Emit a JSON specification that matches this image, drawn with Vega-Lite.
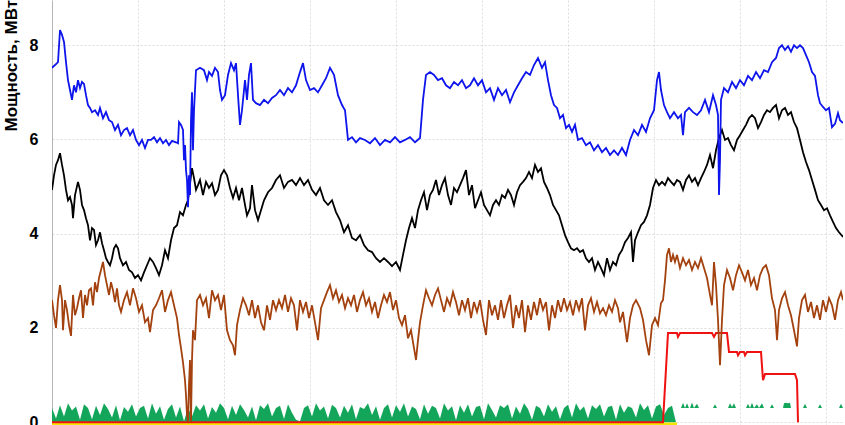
{
"$schema":"https://vega.github.io/schema/vega-lite/v6.json",
"width":791,"height":425,
"autosize":{"type":"none"},
"padding":{"left":52,"top":0,"right":2,"bottom":0},
"background":"white",
"config":{"view":{"stroke":null},"font":"Liberation Sans"},
"datasets":{
"green":[{"n":0,"lo":0,"hi":0.30},{"n":2,"lo":0,"hi":0.08},{"n":4,"lo":0,"hi":0.36},{"n":6,"lo":0,"hi":0.12},{"n":8,"lo":0,"hi":0.40},{"n":10,"lo":0,"hi":0.25},{"n":12,"lo":0,"hi":0.33},{"n":14,"lo":0,"hi":0.05},{"n":16,"lo":0,"hi":0.38},{"n":18,"lo":0,"hi":0.30},{"n":20,"lo":0,"hi":0.06},{"n":22,"lo":0,"hi":0.35},{"n":24,"lo":0,"hi":0.15},{"n":26,"lo":0,"hi":0.40},{"n":28,"lo":0,"hi":0.28},{"n":30,"lo":0,"hi":0.10},{"n":32,"lo":0,"hi":0.36},{"n":34,"lo":0,"hi":0.04},{"n":36,"lo":0,"hi":0.32},{"n":38,"lo":0,"hi":0.22},{"n":40,"lo":0,"hi":0.38},{"n":42,"lo":0,"hi":0.12},{"n":44,"lo":0,"hi":0.30},{"n":46,"lo":0,"hi":0.35},{"n":48,"lo":0,"hi":0.08},{"n":50,"lo":0,"hi":0.40},{"n":52,"lo":0,"hi":0.18},{"n":54,"lo":0,"hi":0.34},{"n":56,"lo":0,"hi":0.05},{"n":58,"lo":0,"hi":0.28},{"n":60,"lo":0,"hi":0.38},{"n":62,"lo":0,"hi":0.10},{"n":64,"lo":0,"hi":0.33},{"n":66,"lo":0,"hi":0.02},{"n":68,"lo":0,"hi":0.30},{"n":70,"lo":0,"hi":0.12},{"n":72,"lo":0,"hi":0.36},{"n":74,"lo":0,"hi":0.25},{"n":76,"lo":0,"hi":0.38},{"n":78,"lo":0,"hi":0.08},{"n":80,"lo":0,"hi":0.32},{"n":82,"lo":0,"hi":0.20},{"n":84,"lo":0,"hi":0.40},{"n":86,"lo":0,"hi":0.30},{"n":88,"lo":0,"hi":0.06},{"n":90,"lo":0,"hi":0.35},{"n":92,"lo":0,"hi":0.15},{"n":94,"lo":0,"hi":0.38},{"n":96,"lo":0,"hi":0.26},{"n":98,"lo":0,"hi":0.10},{"n":100,"lo":0,"hi":0.33},{"n":102,"lo":0,"hi":0.04},{"n":104,"lo":0,"hi":0.36},{"n":106,"lo":0,"hi":0.28},{"n":108,"lo":0,"hi":0.40},{"n":110,"lo":0,"hi":0.12},{"n":112,"lo":0,"hi":0.30},{"n":114,"lo":0,"hi":0.35},{"n":116,"lo":0,"hi":0.07},{"n":118,"lo":0,"hi":0.38},{"n":120,"lo":0,"hi":0.20},{"n":122,"lo":0,"hi":0.05},{"n":124,"lo":0,"hi":0.02},{"n":126,"lo":0,"hi":0.30},{"n":128,"lo":0,"hi":0.36},{"n":130,"lo":0,"hi":0.12},{"n":132,"lo":0,"hi":0.40},{"n":134,"lo":0,"hi":0.25},{"n":136,"lo":0,"hi":0.33},{"n":138,"lo":0,"hi":0.08},{"n":140,"lo":0,"hi":0.37},{"n":142,"lo":0,"hi":0.30},{"n":144,"lo":0,"hi":0.10},{"n":146,"lo":0,"hi":0.35},{"n":148,"lo":0,"hi":0.20},{"n":150,"lo":0,"hi":0.38},{"n":152,"lo":0,"hi":0.06},{"n":154,"lo":0,"hi":0.32},{"n":156,"lo":0,"hi":0.28},{"n":158,"lo":0,"hi":0.40},{"n":160,"lo":0,"hi":0.15},{"n":162,"lo":0,"hi":0.34},{"n":164,"lo":0,"hi":0.05},{"n":166,"lo":0,"hi":0.30},{"n":168,"lo":0,"hi":0.38},{"n":170,"lo":0,"hi":0.10},{"n":172,"lo":0,"hi":0.36},{"n":174,"lo":0,"hi":0.22},{"n":176,"lo":0,"hi":0.40},{"n":178,"lo":0,"hi":0.12},{"n":180,"lo":0,"hi":0.33},{"n":182,"lo":0,"hi":0.28},{"n":184,"lo":0,"hi":0.06},{"n":186,"lo":0,"hi":0.38},{"n":188,"lo":0,"hi":0.18},{"n":190,"lo":0,"hi":0.35},{"n":192,"lo":0,"hi":0.30},{"n":194,"lo":0,"hi":0.08},{"n":196,"lo":0,"hi":0.40},{"n":198,"lo":0,"hi":0.25},{"n":200,"lo":0,"hi":0.34},{"n":202,"lo":0,"hi":0.04},{"n":204,"lo":0,"hi":0.36},{"n":206,"lo":0,"hi":0.20},{"n":208,"lo":0,"hi":0.38},{"n":210,"lo":0,"hi":0.12},{"n":212,"lo":0,"hi":0.32},{"n":214,"lo":0,"hi":0.35},{"n":216,"lo":0,"hi":0.06},{"n":218,"lo":0,"hi":0.40},{"n":220,"lo":0,"hi":0.26},{"n":222,"lo":0,"hi":0.10},{"n":224,"lo":0,"hi":0.36},{"n":226,"lo":0,"hi":0.30},{"n":228,"lo":0,"hi":0.38},{"n":230,"lo":0,"hi":0.08},{"n":232,"lo":0,"hi":0.33},{"n":234,"lo":0,"hi":0.18},{"n":236,"lo":0,"hi":0.40},{"n":238,"lo":0,"hi":0.28},{"n":240,"lo":0,"hi":0.05},{"n":242,"lo":0,"hi":0.35},{"n":244,"lo":0,"hi":0.30},{"n":246,"lo":0,"hi":0.12},{"n":248,"lo":0,"hi":0.38},{"n":250,"lo":0,"hi":0.22},{"n":252,"lo":0,"hi":0.34},{"n":254,"lo":0,"hi":0.06},{"n":256,"lo":0,"hi":0.30},{"n":258,"lo":0,"hi":0.37},{"n":260,"lo":0,"hi":0.10},{"n":262,"lo":0,"hi":0.40},{"n":264,"lo":0,"hi":0.25},{"n":266,"lo":0,"hi":0.33},{"n":268,"lo":0,"hi":0.08},{"n":270,"lo":0,"hi":0.36},{"n":272,"lo":0,"hi":0.28},{"n":274,"lo":0,"hi":0.38},{"n":276,"lo":0,"hi":0.12},{"n":278,"lo":0,"hi":0.32},{"n":280,"lo":0,"hi":0.35},{"n":282,"lo":0,"hi":0.05},{"n":284,"lo":0,"hi":0.38},{"n":286,"lo":0,"hi":0.20},{"n":288,"lo":0,"hi":0.34},{"n":290,"lo":0,"hi":0.30},{"n":292,"lo":0,"hi":0.10},{"n":294,"lo":0,"hi":0.40},{"n":296,"lo":0,"hi":0.26},{"n":298,"lo":0,"hi":0.36},{"n":300,"lo":0,"hi":0.08},{"n":302,"lo":0,"hi":0.33},{"n":304,"lo":0,"hi":0.38},{"n":306,"lo":0,"hi":0.15},{"n":308,"lo":0,"hi":0.30},{"n":310,"lo":0,"hi":0.35},{"n":312,"lo":0,"hi":0.0},{"n":312.5,"lo":0,"hi":0},{"n":313,"lo":0.3,"hi":0.3},{"n":314.5,"lo":0.3,"hi":0.3},{"n":315.5,"lo":0.3,"hi":0.41},{"n":316.5,"lo":0.3,"hi":0.3},{"n":317.5,"lo":0.3,"hi":0.4},{"n":318.5,"lo":0.3,"hi":0.3},{"n":319,"lo":0.3,"hi":0.3},{"n":320,"lo":0.3,"hi":0.42},{"n":321,"lo":0.3,"hi":0.3},{"n":322.5,"lo":0.3,"hi":0.39},{"n":323.5,"lo":0.3,"hi":0.3},{"n":330.5,"lo":0.3,"hi":0.3},{"n":331.5,"lo":0.3,"hi":0.38},{"n":332.5,"lo":0.3,"hi":0.3},{"n":338,"lo":0.3,"hi":0.3},{"n":339,"lo":0.3,"hi":0.4},{"n":340,"lo":0.3,"hi":0.32},{"n":341,"lo":0.3,"hi":0.4},{"n":342,"lo":0.3,"hi":0.3},{"n":347,"lo":0.3,"hi":0.3},{"n":348,"lo":0.3,"hi":0.39},{"n":349,"lo":0.3,"hi":0.3},{"n":350,"lo":0.3,"hi":0.41},{"n":351,"lo":0.3,"hi":0.3},{"n":352.5,"lo":0.3,"hi":0.38},{"n":353.5,"lo":0.3,"hi":0.3},{"n":355,"lo":0.3,"hi":0.4},{"n":356,"lo":0.3,"hi":0.3},{"n":359,"lo":0.3,"hi":0.3},{"n":360,"lo":0.3,"hi":0.38},{"n":361,"lo":0.3,"hi":0.3},{"n":365.5,"lo":0.3,"hi":0.3},{"n":366,"lo":0.3,"hi":0.4},{"n":367,"lo":0.3,"hi":0.41},{"n":368,"lo":0.3,"hi":0.4},{"n":369,"lo":0.3,"hi":0.41},{"n":369.5,"lo":0.3,"hi":0.3},{"n":375.5,"lo":0.3,"hi":0.3},{"n":376.5,"lo":0.3,"hi":0.39},{"n":377.5,"lo":0.3,"hi":0.3},{"n":383,"lo":0.3,"hi":0.3},{"n":384,"lo":0.3,"hi":0.38},{"n":385,"lo":0.3,"hi":0.3},{"n":393.5,"lo":0.3,"hi":0.3},{"n":394.5,"lo":0.3,"hi":0.39},{"n":395.5,"lo":0.3,"hi":0.3}],
"yellow":[{"n":0,"v":-0.04},{"n":312.5,"v":-0.04}],
"red":[{"n":0,"v":0},{"n":305.5,"v":0},{"n":308,"v":1.89},{"n":312.5,"v":1.89},{"n":313,"v":1.81},{"n":314,"v":1.89},{"n":330,"v":1.89},{"n":331,"v":1.81},{"n":332,"v":1.89},{"n":337.5,"v":1.89},{"n":338.5,"v":1.49},{"n":342.5,"v":1.49},{"n":343,"v":1.42},{"n":344,"v":1.49},{"n":346,"v":1.49},{"n":346.5,"v":1.42},{"n":347.5,"v":1.49},{"n":354.5,"v":1.49},{"n":355.5,"v":0.89},{"n":356.5,"v":1.02},{"n":371.5,"v":1.02},{"n":372.5,"v":0.89},{"n":373,"v":0}],
"brown":[{"n":0,"v":2.59},{"n":1,"v":2.27},{"n":2,"v":2.0},{"n":3,"v":2.59},{"n":4,"v":2.91},{"n":5,"v":2.59},{"n":5.5,"v":1.95},{"n":6.5,"v":2.59},{"n":7.5,"v":2.38},{"n":8.5,"v":2.06},{"n":9.5,"v":1.83},{"n":10.5,"v":2.7},{"n":11.5,"v":2.27},{"n":12.5,"v":2.42},{"n":13.5,"v":2.63},{"n":14.5,"v":2.8},{"n":15.5,"v":2.21},{"n":16.5,"v":2.7},{"n":17.5,"v":2.48},{"n":18.5,"v":2.8},{"n":19.5,"v":2.84},{"n":20.5,"v":2.48},{"n":21.5,"v":2.97},{"n":22.5,"v":2.76},{"n":23.5,"v":3.06},{"n":24.5,"v":3.23},{"n":25.5,"v":3.4},{"n":26.5,"v":3.12},{"n":27.5,"v":2.91},{"n":28.5,"v":2.7},{"n":29.5,"v":2.97},{"n":30.5,"v":2.8},{"n":31.5,"v":2.55},{"n":32.5,"v":2.84},{"n":33.5,"v":2.48},{"n":34.5,"v":2.34},{"n":36,"v":2.59},{"n":37.5,"v":2.76},{"n":39,"v":2.48},{"n":40.5,"v":2.84},{"n":42,"v":2.63},{"n":43.5,"v":2.34},{"n":45,"v":2.48},{"n":46.5,"v":2.12},{"n":48,"v":2.21},{"n":49,"v":1.91},{"n":50.5,"v":2.38},{"n":52,"v":2.48},{"n":53.5,"v":2.63},{"n":55,"v":2.8},{"n":56.5,"v":2.34},{"n":58,"v":2.59},{"n":59.5,"v":2.76},{"n":61,"v":2.48},{"n":62.5,"v":2.21},{"n":63.5,"v":1.85},{"n":64.5,"v":1.57},{"n":65.5,"v":1.27},{"n":66.5,"v":0.89},{"n":67,"v":0.57},{"n":67.5,"v":0.15},{"n":68,"v":0},{"n":68.5,"v":0.79},{"n":69,"v":1.32},{"n":69.5,"v":0},{"n":70,"v":1.32},{"n":70.5,"v":1.95},{"n":71.5,"v":1.74},{"n":72.5,"v":2.59},{"n":74,"v":2.7},{"n":75.5,"v":2.48},{"n":77,"v":2.63},{"n":78.5,"v":2.21},{"n":80,"v":2.8},{"n":81.5,"v":2.59},{"n":83,"v":2.7},{"n":84.5,"v":2.38},{"n":86,"v":2.7},{"n":87.5,"v":1.95},{"n":89,"v":1.74},{"n":90.5,"v":1.63},{"n":91.5,"v":1.42},{"n":92.5,"v":2.06},{"n":94,"v":2.38},{"n":95.5,"v":2.63},{"n":97,"v":2.48},{"n":98.5,"v":2.27},{"n":100,"v":2.59},{"n":101.5,"v":2.21},{"n":103,"v":2.48},{"n":104.5,"v":2.12},{"n":106,"v":1.95},{"n":107.5,"v":2.48},{"n":109,"v":2.17},{"n":110.5,"v":2.59},{"n":112,"v":2.38},{"n":113.5,"v":2.59},{"n":115,"v":2.42},{"n":116.5,"v":2.7},{"n":118,"v":2.34},{"n":119.5,"v":2.63},{"n":121,"v":2.48},{"n":122.5,"v":1.95},{"n":124,"v":2.59},{"n":125.5,"v":2.34},{"n":127,"v":2.55},{"n":128.5,"v":2.21},{"n":130,"v":2.48},{"n":131.5,"v":2.12},{"n":133,"v":1.74},{"n":134.5,"v":2.42},{"n":136,"v":2.59},{"n":137.5,"v":2.76},{"n":139,"v":2.91},{"n":140.5,"v":2.63},{"n":142,"v":2.8},{"n":143.5,"v":2.55},{"n":145,"v":2.7},{"n":146.5,"v":2.42},{"n":148,"v":2.63},{"n":149.5,"v":2.48},{"n":151,"v":2.7},{"n":152.5,"v":2.34},{"n":154,"v":2.59},{"n":155.5,"v":2.76},{"n":157,"v":2.48},{"n":158.5,"v":2.63},{"n":160,"v":2.34},{"n":161.5,"v":2.55},{"n":163,"v":2.21},{"n":164.5,"v":2.48},{"n":166,"v":2.7},{"n":167.5,"v":2.55},{"n":169,"v":2.76},{"n":170.5,"v":2.38},{"n":172,"v":2.59},{"n":173.5,"v":2.21},{"n":175,"v":2.06},{"n":176.5,"v":2.27},{"n":178,"v":1.78},{"n":179.5,"v":1.95},{"n":181,"v":1.57},{"n":182,"v":1.32},{"n":183,"v":1.74},{"n":184,"v":2.12},{"n":185.5,"v":2.48},{"n":187,"v":2.8},{"n":188.5,"v":2.63},{"n":190,"v":2.48},{"n":191.5,"v":2.7},{"n":193,"v":2.84},{"n":194.5,"v":2.59},{"n":196,"v":2.34},{"n":197.5,"v":2.63},{"n":199,"v":2.48},{"n":200.5,"v":2.76},{"n":202,"v":2.55},{"n":203.5,"v":2.27},{"n":205,"v":2.59},{"n":206.5,"v":2.38},{"n":208,"v":2.63},{"n":209.5,"v":2.21},{"n":211,"v":2.55},{"n":212.5,"v":2.34},{"n":214,"v":2.59},{"n":215.5,"v":2.17},{"n":217,"v":1.85},{"n":218.5,"v":2.59},{"n":220,"v":2.27},{"n":221.5,"v":2.48},{"n":223,"v":2.17},{"n":224.5,"v":2.59},{"n":226,"v":2.21},{"n":227.5,"v":2.48},{"n":229,"v":2.7},{"n":230.5,"v":2.0},{"n":232,"v":2.48},{"n":233.5,"v":2.21},{"n":235,"v":2.59},{"n":236.5,"v":1.91},{"n":238,"v":2.48},{"n":239.5,"v":2.17},{"n":241,"v":2.55},{"n":242.5,"v":2.27},{"n":244,"v":2.63},{"n":245.5,"v":2.38},{"n":247,"v":2.55},{"n":248.5,"v":1.95},{"n":250,"v":2.48},{"n":251.5,"v":2.21},{"n":253,"v":2.59},{"n":254.5,"v":2.34},{"n":256,"v":2.63},{"n":257.5,"v":2.38},{"n":259,"v":2.55},{"n":260.5,"v":2.27},{"n":262,"v":2.59},{"n":263.5,"v":2.38},{"n":265,"v":2.63},{"n":266.5,"v":1.95},{"n":268,"v":2.48},{"n":269.5,"v":2.63},{"n":271,"v":2.34},{"n":272.5,"v":2.55},{"n":274,"v":2.31},{"n":275.5,"v":2.42},{"n":277,"v":2.27},{"n":278.5,"v":2.48},{"n":280,"v":2.34},{"n":281.5,"v":2.59},{"n":283,"v":2.42},{"n":284,"v":2.12},{"n":285.5,"v":2.34},{"n":287.5,"v":1.7},{"n":289,"v":2.21},{"n":290.5,"v":2.48},{"n":292,"v":2.59},{"n":294,"v":2.42},{"n":295.5,"v":2.17},{"n":297,"v":1.74},{"n":298.5,"v":1.42},{"n":300,"v":2.06},{"n":301.5,"v":2.21},{"n":303,"v":2.06},{"n":304.5,"v":2.53},{"n":305.5,"v":2.59},{"n":306.5,"v":3.01},{"n":307.5,"v":3.55},{"n":308.5,"v":3.69},{"n":309.5,"v":3.4},{"n":310.5,"v":3.55},{"n":311.5,"v":3.4},{"n":312.5,"v":3.55},{"n":314,"v":3.27},{"n":315.5,"v":3.48},{"n":317,"v":3.33},{"n":318.5,"v":3.44},{"n":320,"v":3.23},{"n":321.5,"v":3.4},{"n":323,"v":3.27},{"n":324.5,"v":3.48},{"n":326,"v":3.27},{"n":327.5,"v":3.06},{"n":329,"v":2.7},{"n":330,"v":2.48},{"n":331,"v":3.4},{"n":332,"v":2.91},{"n":333,"v":2.17},{"n":334,"v":1.21},{"n":335,"v":2.17},{"n":336,"v":2.91},{"n":337.5,"v":3.23},{"n":339,"v":3.06},{"n":340.5,"v":2.8},{"n":342,"v":3.12},{"n":343.5,"v":3.33},{"n":345,"v":3.18},{"n":346.5,"v":3.01},{"n":348,"v":3.23},{"n":349.5,"v":2.91},{"n":351,"v":3.06},{"n":352.5,"v":2.8},{"n":354,"v":3.12},{"n":355.5,"v":3.27},{"n":357,"v":3.33},{"n":358.5,"v":3.12},{"n":360,"v":2.63},{"n":361.5,"v":2.38},{"n":362.5,"v":1.74},{"n":363.5,"v":2.38},{"n":365,"v":2.63},{"n":366.5,"v":2.76},{"n":368,"v":2.48},{"n":369.5,"v":2.27},{"n":371,"v":1.95},{"n":372.5,"v":1.61},{"n":373.5,"v":2.21},{"n":375,"v":2.59},{"n":376.5,"v":2.7},{"n":378,"v":2.34},{"n":379.5,"v":2.55},{"n":381,"v":2.21},{"n":382.5,"v":2.48},{"n":384,"v":2.17},{"n":385.5,"v":2.59},{"n":387,"v":2.34},{"n":388.5,"v":2.63},{"n":390,"v":2.48},{"n":391.5,"v":2.17},{"n":393,"v":2.59},{"n":394.5,"v":2.76},{"n":395.5,"v":2.59}],
"black":[{"n":0,"v":4.93},{"n":1,"v":5.24},{"n":2,"v":5.46},{"n":3,"v":5.56},{"n":4,"v":5.71},{"n":5,"v":5.46},{"n":6,"v":5.24},{"n":7,"v":4.93},{"n":8,"v":4.71},{"n":9,"v":4.78},{"n":10,"v":4.61},{"n":10.5,"v":4.33},{"n":11.5,"v":4.82},{"n":13,"v":5.1},{"n":14,"v":4.93},{"n":15,"v":4.61},{"n":16,"v":4.5},{"n":17,"v":4.33},{"n":18,"v":4.18},{"n":19,"v":3.86},{"n":20,"v":4.12},{"n":21,"v":4.08},{"n":22,"v":3.76},{"n":23,"v":3.86},{"n":24,"v":4.03},{"n":25,"v":3.8},{"n":26,"v":3.65},{"n":27,"v":3.48},{"n":28,"v":3.4},{"n":29,"v":3.33},{"n":30,"v":3.48},{"n":31,"v":3.69},{"n":32,"v":3.76},{"n":33,"v":3.69},{"n":34,"v":3.48},{"n":35.5,"v":3.33},{"n":37,"v":3.4},{"n":38.5,"v":3.23},{"n":40,"v":3.18},{"n":41.5,"v":3.06},{"n":43,"v":3.12},{"n":44.5,"v":3.01},{"n":46,"v":3.18},{"n":47.5,"v":3.33},{"n":49,"v":3.48},{"n":50.5,"v":3.4},{"n":52,"v":3.27},{"n":53.5,"v":3.12},{"n":55,"v":3.33},{"n":56.5,"v":3.65},{"n":58,"v":3.48},{"n":59.5,"v":3.86},{"n":61,"v":4.12},{"n":62.5,"v":4.18},{"n":64,"v":4.46},{"n":65.5,"v":4.39},{"n":67,"v":4.61},{"n":68,"v":4.71},{"n":69,"v":5.07},{"n":70,"v":5.39},{"n":71,"v":5.18},{"n":72,"v":4.93},{"n":73,"v":5.03},{"n":74,"v":5.14},{"n":75.5,"v":4.82},{"n":77,"v":5.1},{"n":78.5,"v":4.97},{"n":80,"v":5.07},{"n":81.5,"v":4.82},{"n":83,"v":4.93},{"n":84.5,"v":5.24},{"n":86,"v":5.35},{"n":87.5,"v":5.24},{"n":89,"v":4.97},{"n":90.5,"v":4.76},{"n":92,"v":4.97},{"n":93.5,"v":4.71},{"n":95,"v":4.97},{"n":96.5,"v":4.61},{"n":97.5,"v":4.39},{"n":99,"v":4.54},{"n":100,"v":5.03},{"n":101.5,"v":4.5},{"n":103,"v":4.29},{"n":104.5,"v":4.5},{"n":106,"v":4.71},{"n":108,"v":4.88},{"n":110,"v":4.97},{"n":112,"v":5.14},{"n":114,"v":5.24},{"n":116,"v":4.97},{"n":118,"v":5.1},{"n":120,"v":5.14},{"n":122,"v":5.03},{"n":124,"v":5.18},{"n":126,"v":5.03},{"n":128,"v":5.14},{"n":130,"v":4.93},{"n":132,"v":4.82},{"n":134,"v":4.97},{"n":136,"v":4.71},{"n":138,"v":4.61},{"n":140,"v":4.71},{"n":142,"v":4.46},{"n":144,"v":4.29},{"n":146,"v":4.03},{"n":148,"v":4.18},{"n":150,"v":3.91},{"n":152,"v":3.86},{"n":154,"v":3.97},{"n":156,"v":3.76},{"n":158,"v":3.65},{"n":160,"v":3.61},{"n":162,"v":3.48},{"n":164,"v":3.4},{"n":166,"v":3.48},{"n":168,"v":3.4},{"n":170,"v":3.31},{"n":172,"v":3.4},{"n":174,"v":3.23},{"n":175.5,"v":3.55},{"n":177,"v":3.86},{"n":178.5,"v":4.12},{"n":180,"v":4.33},{"n":181.5,"v":4.12},{"n":183,"v":4.5},{"n":184.5,"v":4.71},{"n":186,"v":4.88},{"n":187.5,"v":4.5},{"n":189,"v":4.82},{"n":190.5,"v":4.93},{"n":192,"v":5.14},{"n":193.5,"v":4.82},{"n":195,"v":5.03},{"n":196.5,"v":5.18},{"n":198,"v":4.82},{"n":199.5,"v":4.61},{"n":201,"v":4.97},{"n":202.5,"v":4.88},{"n":204,"v":5.03},{"n":205.5,"v":5.18},{"n":207,"v":5.35},{"n":208.5,"v":4.82},{"n":210,"v":5.03},{"n":211.5,"v":4.54},{"n":213,"v":4.71},{"n":214.5,"v":4.88},{"n":216,"v":4.61},{"n":217.5,"v":4.5},{"n":219,"v":4.39},{"n":220.5,"v":4.61},{"n":222,"v":4.71},{"n":223.5,"v":4.61},{"n":225,"v":4.82},{"n":226.5,"v":4.76},{"n":228,"v":4.93},{"n":229.5,"v":4.82},{"n":231,"v":4.61},{"n":232.5,"v":4.88},{"n":234,"v":5.03},{"n":235.5,"v":5.1},{"n":237,"v":5.18},{"n":238.5,"v":5.31},{"n":240,"v":5.18},{"n":241.5,"v":5.46},{"n":243,"v":5.31},{"n":244.5,"v":5.39},{"n":246,"v":5.1},{"n":247.5,"v":4.97},{"n":249,"v":4.82},{"n":250.5,"v":4.61},{"n":252,"v":4.5},{"n":253.5,"v":4.39},{"n":255,"v":4.18},{"n":256.5,"v":3.97},{"n":258,"v":3.82},{"n":259.5,"v":3.69},{"n":261,"v":3.65},{"n":262.5,"v":3.69},{"n":264,"v":3.61},{"n":265.5,"v":3.65},{"n":267,"v":3.48},{"n":268.5,"v":3.4},{"n":270,"v":3.48},{"n":271.5,"v":3.23},{"n":273,"v":3.4},{"n":274.5,"v":3.27},{"n":276,"v":3.12},{"n":277.5,"v":3.48},{"n":279,"v":3.23},{"n":280.5,"v":3.4},{"n":282,"v":3.33},{"n":283.5,"v":3.55},{"n":285,"v":3.65},{"n":286.5,"v":3.82},{"n":288,"v":3.91},{"n":289.5,"v":4.03},{"n":290.5,"v":3.4},{"n":291.5,"v":3.86},{"n":293,"v":4.03},{"n":294.5,"v":4.18},{"n":296,"v":4.25},{"n":297.5,"v":4.39},{"n":299,"v":4.61},{"n":300.5,"v":4.97},{"n":302,"v":5.14},{"n":303.5,"v":5.03},{"n":305,"v":5.1},{"n":306.5,"v":5.03},{"n":308,"v":5.18},{"n":309.5,"v":5.1},{"n":311,"v":5.03},{"n":312.5,"v":5.14},{"n":314,"v":5.1},{"n":315.5,"v":4.93},{"n":317,"v":5.14},{"n":318.5,"v":5.24},{"n":320,"v":5.1},{"n":321.5,"v":5.18},{"n":323,"v":5.03},{"n":324.5,"v":5.18},{"n":326,"v":5.31},{"n":327.5,"v":5.46},{"n":329,"v":5.67},{"n":330.5,"v":5.39},{"n":332,"v":5.77},{"n":333.5,"v":6.03},{"n":335,"v":6.2},{"n":336.5,"v":5.99},{"n":338,"v":6.03},{"n":339.5,"v":5.88},{"n":341,"v":5.77},{"n":342.5,"v":5.99},{"n":344,"v":6.09},{"n":345.5,"v":6.2},{"n":347,"v":6.31},{"n":348.5,"v":6.45},{"n":350,"v":6.52},{"n":351.5,"v":6.45},{"n":353,"v":6.24},{"n":354.5,"v":6.37},{"n":356,"v":6.52},{"n":357.5,"v":6.62},{"n":359,"v":6.58},{"n":360.5,"v":6.67},{"n":362,"v":6.73},{"n":363.5,"v":6.45},{"n":365,"v":6.62},{"n":366.5,"v":6.67},{"n":368,"v":6.52},{"n":369.5,"v":6.58},{"n":371,"v":6.37},{"n":372.5,"v":6.24},{"n":374,"v":5.99},{"n":375.5,"v":5.73},{"n":377,"v":5.52},{"n":378.5,"v":5.35},{"n":380,"v":5.14},{"n":381.5,"v":4.93},{"n":383,"v":4.71},{"n":384.5,"v":4.61},{"n":386,"v":4.5},{"n":387.5,"v":4.54},{"n":389,"v":4.39},{"n":390.5,"v":4.25},{"n":392,"v":4.12},{"n":393.5,"v":4.03},{"n":395.5,"v":3.93}],
"blue":[{"n":0,"v":7.52},{"n":2,"v":7.6},{"n":3,"v":7.64},{"n":4,"v":8.32},{"n":5,"v":8.22},{"n":6,"v":8.07},{"n":7,"v":7.64},{"n":8,"v":7.26},{"n":9,"v":7.05},{"n":10,"v":6.84},{"n":11,"v":7.15},{"n":12,"v":7.0},{"n":13,"v":7.26},{"n":14,"v":7.09},{"n":15,"v":7.22},{"n":16,"v":7.18},{"n":17,"v":6.94},{"n":18,"v":6.73},{"n":19,"v":6.67},{"n":20,"v":6.58},{"n":21.5,"v":6.62},{"n":23,"v":6.52},{"n":24,"v":6.67},{"n":25.5,"v":6.45},{"n":27,"v":6.58},{"n":28.5,"v":6.41},{"n":30,"v":6.37},{"n":31.5,"v":6.2},{"n":33,"v":6.31},{"n":34.5,"v":6.09},{"n":36,"v":6.2},{"n":37.5,"v":6.24},{"n":39,"v":6.09},{"n":40.5,"v":6.2},{"n":42,"v":5.99},{"n":43.5,"v":5.88},{"n":45,"v":5.99},{"n":46.5,"v":5.82},{"n":48,"v":5.99},{"n":49.5,"v":5.99},{"n":51,"v":6.05},{"n":52.5,"v":5.94},{"n":54,"v":6.03},{"n":55.5,"v":5.92},{"n":57,"v":5.99},{"n":58.5,"v":5.88},{"n":60,"v":5.97},{"n":62,"v":5.94},{"n":63,"v":5.92},{"n":63.5,"v":6.37},{"n":64.5,"v":6.31},{"n":65.5,"v":6.2},{"n":66,"v":5.56},{"n":66.5,"v":5.88},{"n":67,"v":5.35},{"n":67.5,"v":5.14},{"n":68,"v":4.56},{"n":68.5,"v":5.24},{"n":69,"v":4.82},{"n":69.5,"v":6.41},{"n":70,"v":7.0},{"n":70.5,"v":5.77},{"n":71,"v":6.62},{"n":72,"v":7.47},{"n":74,"v":7.52},{"n":76,"v":7.47},{"n":77.5,"v":7.26},{"n":78.5,"v":7.43},{"n":80,"v":7.35},{"n":81.5,"v":7.52},{"n":83,"v":7.43},{"n":84,"v":7.05},{"n":85,"v":6.84},{"n":86.5,"v":6.94},{"n":88,"v":7.37},{"n":89.5,"v":7.62},{"n":91,"v":7.47},{"n":92,"v":7.62},{"n":93,"v":6.94},{"n":94,"v":6.31},{"n":95,"v":6.62},{"n":96.5,"v":7.26},{"n":97.5,"v":6.84},{"n":98.5,"v":7.37},{"n":99.5,"v":7.62},{"n":100.5,"v":6.84},{"n":102,"v":6.77},{"n":104,"v":6.73},{"n":106,"v":6.84},{"n":108,"v":6.77},{"n":110,"v":6.88},{"n":112,"v":6.94},{"n":114,"v":7.05},{"n":116,"v":6.94},{"n":118,"v":7.09},{"n":120,"v":7.0},{"n":122,"v":7.15},{"n":124,"v":7.43},{"n":125.5,"v":7.62},{"n":127,"v":7.26},{"n":129,"v":7.05},{"n":131,"v":7.09},{"n":133,"v":7.0},{"n":135,"v":7.15},{"n":137,"v":7.3},{"n":139,"v":7.52},{"n":141,"v":7.37},{"n":143,"v":6.94},{"n":145,"v":6.73},{"n":146.5,"v":6.62},{"n":148,"v":5.99},{"n":150,"v":6.05},{"n":152,"v":5.94},{"n":154,"v":6.03},{"n":156.5,"v":5.99},{"n":159,"v":5.92},{"n":161.5,"v":6.03},{"n":164,"v":5.88},{"n":166.5,"v":5.99},{"n":169,"v":5.94},{"n":171.5,"v":6.05},{"n":174,"v":5.94},{"n":176.5,"v":5.99},{"n":179,"v":6.05},{"n":181.5,"v":5.94},{"n":184,"v":6.03},{"n":185.5,"v":6.84},{"n":187,"v":7.37},{"n":189,"v":7.43},{"n":191,"v":7.37},{"n":193,"v":7.26},{"n":195,"v":7.3},{"n":197,"v":7.15},{"n":199,"v":7.09},{"n":201,"v":7.22},{"n":203,"v":7.15},{"n":205,"v":7.26},{"n":207,"v":7.09},{"n":209,"v":7.15},{"n":211,"v":7.3},{"n":213,"v":7.15},{"n":215,"v":7.26},{"n":217,"v":7.0},{"n":219,"v":7.09},{"n":221,"v":6.84},{"n":223,"v":7.09},{"n":225,"v":6.94},{"n":227,"v":7.05},{"n":229,"v":6.79},{"n":231,"v":7.0},{"n":233,"v":7.15},{"n":235,"v":7.3},{"n":237,"v":7.43},{"n":239,"v":7.37},{"n":241,"v":7.58},{"n":243,"v":7.73},{"n":245,"v":7.52},{"n":246.5,"v":7.64},{"n":248,"v":7.26},{"n":249.5,"v":6.94},{"n":251,"v":6.73},{"n":252.5,"v":6.67},{"n":254,"v":6.45},{"n":255.5,"v":6.52},{"n":257,"v":6.24},{"n":258.5,"v":6.31},{"n":260,"v":6.16},{"n":261.5,"v":6.31},{"n":263,"v":5.99},{"n":265,"v":6.03},{"n":267,"v":5.88},{"n":269,"v":5.94},{"n":271,"v":5.77},{"n":273,"v":5.88},{"n":275,"v":5.73},{"n":277,"v":5.82},{"n":279,"v":5.67},{"n":281,"v":5.77},{"n":283,"v":5.67},{"n":285,"v":5.82},{"n":287,"v":5.67},{"n":289,"v":5.99},{"n":291,"v":6.2},{"n":293,"v":6.09},{"n":295,"v":6.31},{"n":297,"v":6.16},{"n":299,"v":6.45},{"n":301,"v":6.62},{"n":302.5,"v":7.26},{"n":303.5,"v":7.43},{"n":304.5,"v":7.05},{"n":306,"v":6.73},{"n":307.5,"v":6.58},{"n":309,"v":6.45},{"n":311,"v":6.58},{"n":313,"v":6.45},{"n":314.5,"v":6.52},{"n":315.5,"v":6.09},{"n":316.5,"v":6.58},{"n":318.5,"v":6.67},{"n":320.5,"v":6.58},{"n":322.5,"v":6.52},{"n":324.5,"v":6.62},{"n":326.5,"v":6.84},{"n":328.5,"v":6.58},{"n":330.5,"v":6.94},{"n":332,"v":6.73},{"n":333,"v":6.52},{"n":333.5,"v":4.82},{"n":334,"v":5.56},{"n":334.5,"v":6.84},{"n":336,"v":7.09},{"n":338,"v":7.0},{"n":340,"v":7.22},{"n":342,"v":7.09},{"n":344,"v":7.26},{"n":346,"v":7.15},{"n":348,"v":7.35},{"n":350,"v":7.26},{"n":352,"v":7.43},{"n":354,"v":7.3},{"n":356,"v":7.47},{"n":358,"v":7.43},{"n":360,"v":7.64},{"n":362,"v":7.73},{"n":363.5,"v":7.94},{"n":365,"v":8.0},{"n":366.5,"v":7.9},{"n":368,"v":7.98},{"n":369.5,"v":7.86},{"n":371,"v":8.0},{"n":372.5,"v":7.94},{"n":374,"v":8.0},{"n":375.5,"v":7.94},{"n":377,"v":7.79},{"n":378.5,"v":7.64},{"n":380,"v":7.43},{"n":381.5,"v":7.35},{"n":383,"v":6.94},{"n":384,"v":6.77},{"n":385.5,"v":6.69},{"n":387,"v":6.62},{"n":388.5,"v":6.67},{"n":390,"v":6.26},{"n":391.5,"v":6.33},{"n":393,"v":6.56},{"n":394,"v":6.41},{"n":395.5,"v":6.35}]
},
"layer":[
{"data":{"name":"green"},"mark":{"type":"area","color":"#13a65b","clip":true},
 "encoding":{
  "x":{"field":"n","type":"quantitative","scale":{"domain":[0,395.5],"nice":false,"zero":false},
       "axis":{"values":[43,86,129,172,215,258,301,344,387],"labels":false,"ticks":false,"domain":false,"title":null,"grid":true,"gridColor":"#dcdcdc","gridDash":[2,2],"gridWidth":1}},
  "y":{"field":"hi","type":"quantitative","scale":{"domain":[-0.06,8.96],"nice":false,"zero":false},
       "axis":{"values":[0,2,4,6,8],"title":"Мощность, МВт","titleFont":"Liberation Sans","titleFontSize":17,"titleFontWeight":"bold","titleColor":"#000000","titleAngle":-90,"titleAlign":"left","titleBaseline":"alphabetic","titleX":-36,"titleY":131,"labelFont":"Liberation Sans","labelFontSize":16,"labelFontWeight":"bold","labelColor":"#000000","labelPadding":14,"ticks":false,"domainColor":"#b5b5b5","domainWidth":1,"grid":true,"gridColor":"#dcdcdc","gridDash":[2,2],"gridWidth":1}},
  "y2":{"field":"lo"}}},
{"data":{"name":"yellow"},"mark":{"type":"line","color":"#f5e600","strokeWidth":3,"clip":true},
 "encoding":{"x":{"field":"n","type":"quantitative"},"y":{"field":"v","type":"quantitative"}}},
{"data":{"name":"red"},"mark":{"type":"line","color":"#f01212","strokeWidth":2,"clip":true},
 "encoding":{"x":{"field":"n","type":"quantitative"},"y":{"field":"v","type":"quantitative"}}},
{"data":{"name":"brown"},"mark":{"type":"line","color":"#a3420f","strokeWidth":1.8,"clip":true},
 "encoding":{"x":{"field":"n","type":"quantitative"},"y":{"field":"v","type":"quantitative"}}},
{"data":{"name":"black"},"mark":{"type":"line","color":"#000000","strokeWidth":1.8,"clip":true},
 "encoding":{"x":{"field":"n","type":"quantitative"},"y":{"field":"v","type":"quantitative"}}},
{"data":{"name":"blue"},"mark":{"type":"line","color":"#0d14ec","strokeWidth":1.8,"clip":true},
 "encoding":{"x":{"field":"n","type":"quantitative"},"y":{"field":"v","type":"quantitative"}}},
{"mark":{"type":"rule","color":"#b5b5b5","strokeWidth":1},
 "encoding":{"x":{"datum":395.5},"y":{"datum":-0.06},"y2":{"datum":8.45}}}
]
}
